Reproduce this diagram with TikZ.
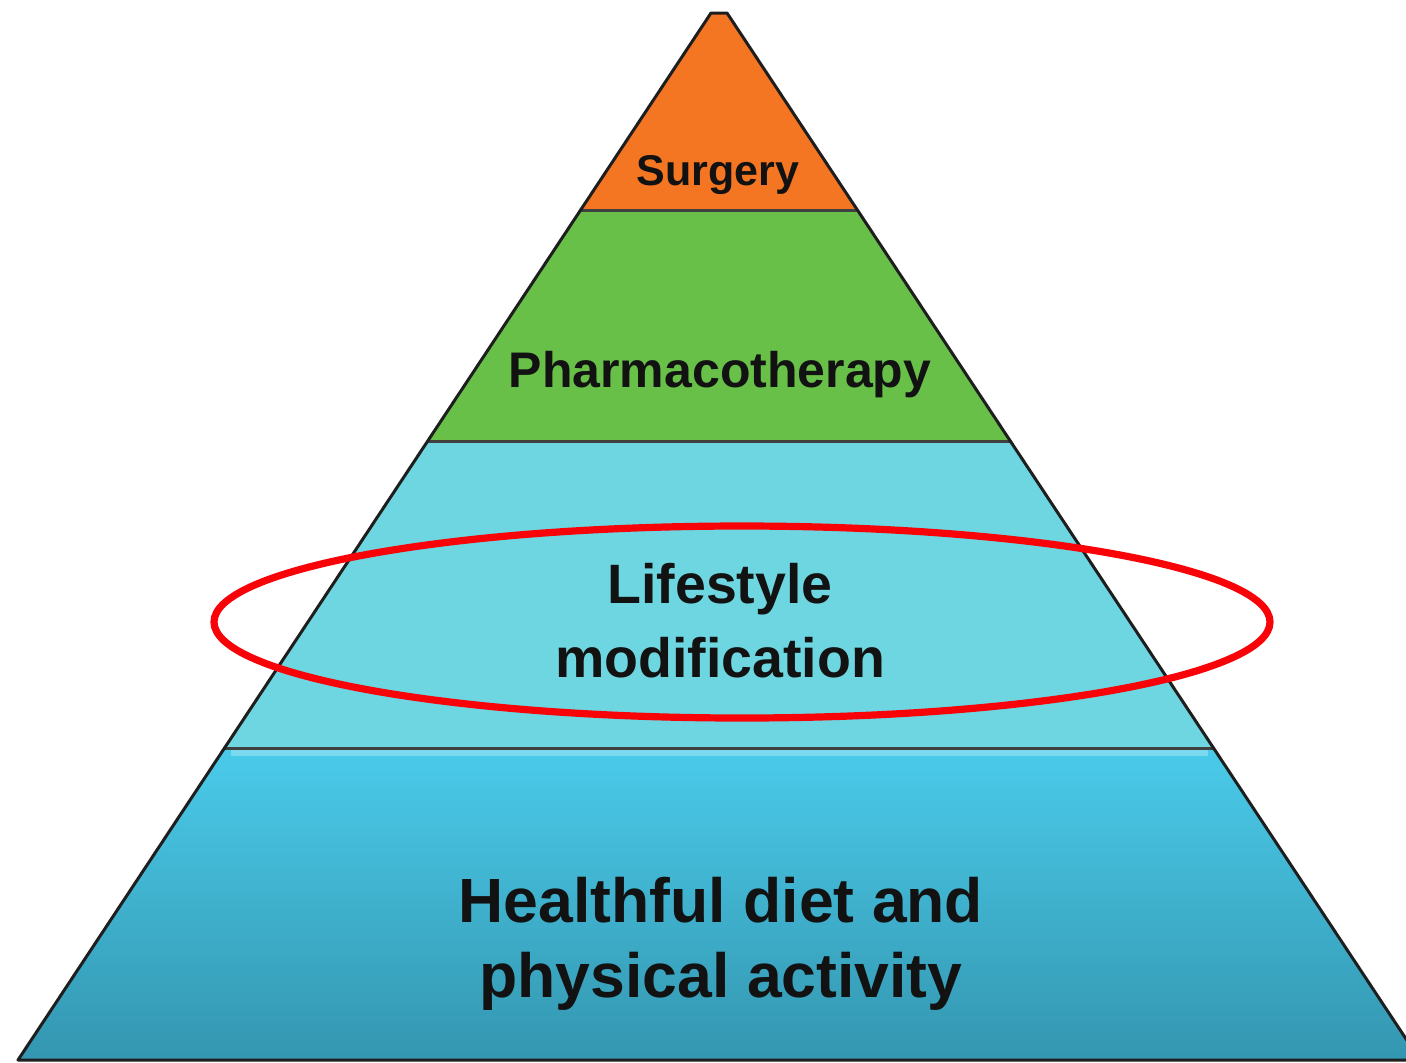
\documentclass[tikz,border=0pt]{standalone}
\usepackage{fontspec}
\setmainfont{Liberation Sans}
\usetikzlibrary{calc}
\definecolor{orng}{RGB}{245,118,34}
\definecolor{grn}{RGB}{104,192,72}
\definecolor{lcyan}{RGB}{110,214,224}
\definecolor{btop}{RGB}{74,203,234}
\definecolor{bbot}{RGB}{52,150,176}
\definecolor{ored}{RGB}{248,4,8}
\definecolor{edgec}{RGB}{30,30,30}
\begin{document}
\begin{tikzpicture}[x=0.5pt,y=-0.5pt,
  lbl/.style={font=\bfseries, text=black!93, anchor=base, inner sep=0pt},
  sepline/.style={draw=edgec!85, line width=1.5pt},
  outline/.style={draw=edgec, line width=1.5pt, line join=round},
  ring/.style={draw=ored, line width=3.6pt}]
\useasboundingbox (0,0) rectangle (1406,1062);
\fill[white] (0,0) rectangle (1406,1062);
\coordinate (TL) at (711,13);
\coordinate (TR) at (727,13);
\coordinate (BL) at (18,1060);
\coordinate (BR) at (1420,1060);
\coordinate (L1) at ($(TL)!0.1882!(BL)$);
\coordinate (R1) at ($(TR)!0.1882!(BR)$);
\coordinate (L2) at ($(TL)!0.4097!(BL)$);
\coordinate (R2) at ($(TR)!0.4097!(BR)$);
\coordinate (L3) at ($(TL)!0.7020!(BL)$);
\coordinate (R3) at ($(TR)!0.7020!(BR)$);
% bands
\fill[orng] (TL) -- (TR) -- (R1) -- (L1) -- cycle;
\fill[grn] (L1) -- (R1) -- (R2) -- (L2) -- cycle;
\fill[lcyan] (L2) -- (R2) -- (R3) -- (L3) -- cycle;
\shade[top color=btop, bottom color=bbot] (L3) -- (R3) -- (BR) -- (BL) -- cycle;
\draw[line width=3pt, draw=btop!55!white, opacity=0.6] ($(L3)+(6,5)$) -- ($(R3)+(-6,5)$);
% separators
\draw[sepline] (L1) -- (R1);
\draw[sepline] (L2) -- (R2);
\draw[sepline] (L3) -- (R3);
\draw[outline] (TL) -- (TR) -- (BR) -- (BL) -- cycle;
% labels
\node[lbl, font=\bfseries\fontsize{21.5}{26}\selectfont] (surg) at (718,185) {Surgery};
\node[lbl, font=\bfseries\fontsize{25}{30}\selectfont] (pharm) at (720,387) {Pharmacotherapy};
\node[lbl, font=\bfseries\fontsize{27.75}{33}\selectfont] (life1) at (720,603) {Lifestyle};
\node[lbl, font=\bfseries\fontsize{27.75}{33}\selectfont] (life2) at (720,677) {modification};
\node[lbl, font=\bfseries\fontsize{31.25}{37}\selectfont] (diet1) at (721,922) {Healthful diet and};
\node[lbl, font=\bfseries\fontsize{31.25}{37}\selectfont] (diet2) at (721,997) {physical activity};
% highlight ellipse
\draw[ring] (742,622) ellipse [x radius=528, y radius=96];
\end{tikzpicture}
\end{document}
